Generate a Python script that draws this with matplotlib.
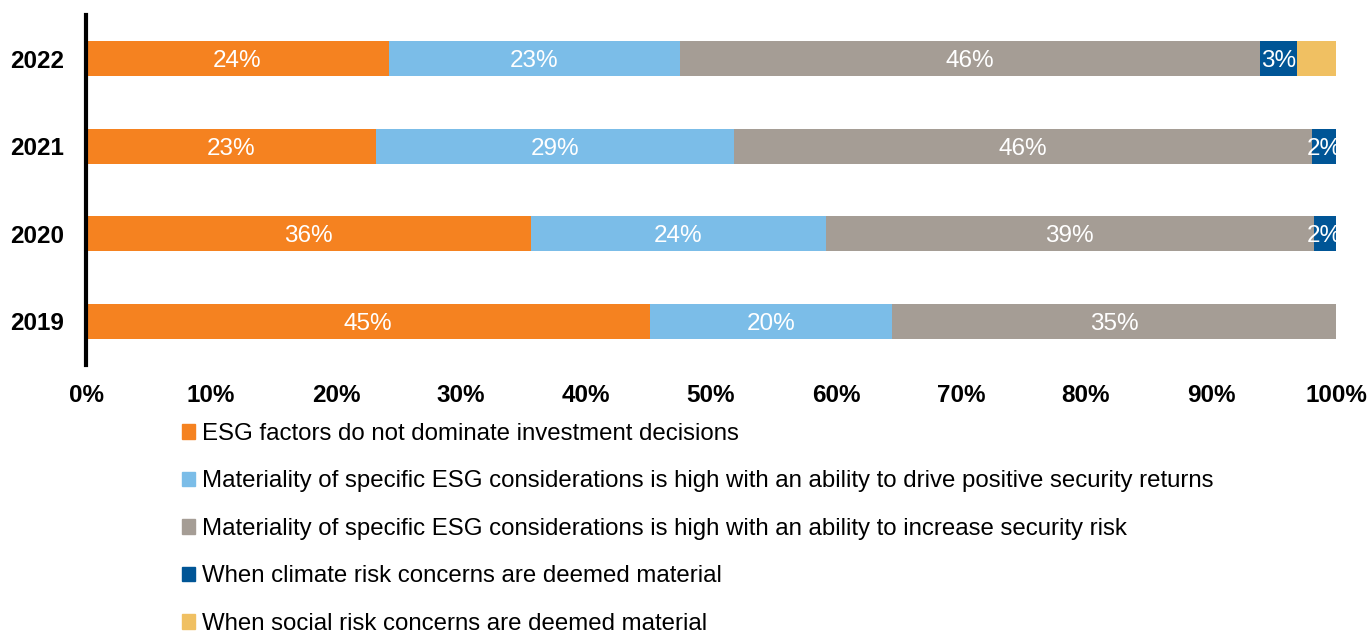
import matplotlib.pyplot as plt
from matplotlib.patches import Patch

plt.rcParams['font.family'] = ['Liberation Sans', 'DejaVu Sans']

years = ['2019', '2020', '2021', '2022']
series = [
    'ESG factors do not dominate investment decisions',
    'Materiality of specific ESG considerations is high with an ability to drive positive security returns',
    'Materiality of specific ESG considerations is high with an ability to increase security risk',
    'When climate risk concerns are deemed material',
    'When social risk concerns are deemed material',
]
colors = ['#F58220', '#7BBDE8', '#A59D95', '#005596', '#F0C062']

# segment widths (%) per year, order 2019..2022
not_dominate = [45.1, 35.6, 23.2, 24.2]
positive_returns = [19.4, 23.6, 28.6, 23.3]
increase_risk = [35.5, 39.0, 46.3, 46.4]
climate = [0, 1.8, 1.9, 3.0]
social = [0, 0, 0, 3.1]
values = [not_dominate, positive_returns, increase_risk, climate, social]

# printed labels
labels = [
    ['45%', '36%', '23%', '24%'],
    ['20%', '24%', '29%', '23%'],
    ['35%', '39%', '46%', '46%'],
    ['', '2%', '2%', '3%'],
    ['', '', '', ''],
]

fig = plt.figure(figsize=(13.7, 6.35), dpi=100)
ax = fig.add_axes([86/1370, 1 - 365/635, 1250/1370, 350/635])

left = [0] * len(years)
for vals, col, labs in zip(values, colors, labels):
    ax.barh(years, vals, left=left, color=col, height=0.4)
    for i, (v, l) in enumerate(zip(vals, labs)):
        if v > 0 and l:
            ax.text(left[i] + v / 2, i, l, ha='center', va='center_baseline',
                    color='white', fontsize=17.5)
    left = [a + b for a, b in zip(left, vals)]

ax.set_xlim(0, 100)
ax.set_ylim(-0.5, 3.5)
ax.set_xticks(range(0, 101, 10))
ax.set_xticklabels([f'{t}%' for t in range(0, 101, 10)], fontweight='bold', fontsize=17.5)
for t in ax.get_yticklabels():
    t.set_fontweight('bold')
    t.set_fontsize(17.5)
ax.tick_params(axis='x', length=0, pad=14)
ax.tick_params(axis='y', length=0, pad=16)
for s in ['top', 'right', 'bottom']:
    ax.spines[s].set_visible(False)
ax.spines['left'].set_linewidth(3)

handles = [Patch(color=c) for c in colors]
fig.legend(handles, series, loc='upper left', bbox_to_anchor=(182/1370, 1 - 423/635),
           frameon=False, fontsize=17.3, handlelength=0.55, handleheight=0.55,
           handletextpad=0.3, labelspacing=1.06, borderaxespad=0, borderpad=0)

fig.savefig('out.png', dpi=100)
